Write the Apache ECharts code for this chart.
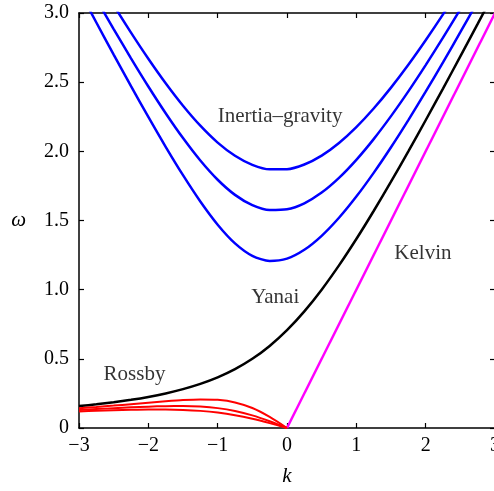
<!DOCTYPE html>
<html>
<head>
<meta charset="utf-8">
<script src="https://cdn.jsdelivr.net/npm/echarts@6/dist/echarts.min.js"></script>
<style>html,body{margin:0;padding:0;background:#fff}#c{width:494px;height:491px}</style>
</head>
<body>
<div id="c"></div>
<script>
var kIG = [-3,-2.75,-2.5,-2.25,-2,-1.75,-1.5,-1.25,-1,-0.75,-0.5,-0.25,0,0.25,0.5,0.75,1,1.25,1.5,1.75,2,2.25,2.5,2.75,3];
var ig1 = [3.1665,2.9315,2.6994,2.4712,2.2484,2.0326,1.8275,1.6373,1.4697,1.3348,1.2447,1.2079,1.2247,1.2882,1.3892,1.5196,1.6730,1.8443,2.0297,2.2261,2.4314,2.6434,2.8612,3.0836,null];
var ig2 = [3.3240,3.1014,2.8837,2.6723,2.4688,2.2755,2.0957,1.9336,1.7946,1.6852,1.6108,1.5758,1.5811,1.6246,1.7019,1.8082,1.9385,2.0884,2.2545,2.4335,2.6232,2.8216,3.0270,null,null];
var ig3 = [3.4739,3.2620,3.0564,2.8582,2.6694,2.4922,2.3298,2.1855,2.0633,1.9677,1.9022,1.8697,1.8708,1.9048,1.9690,2.0602,2.1748,2.3094,2.4607,2.6260,2.8031,2.9898,3.1848,null,null];
var yanai = [0.1583,0.1712,0.1861,0.2038,0.2247,0.2500,0.2808,0.3187,0.3660,0.4254,0.5000,0.5931,0.7071,0.8431,1.0000,1.1754,1.3660,1.5687,1.7808,2.0000,2.2247,2.4538,2.6861,2.9212,3.1583];
var kR = [-3,-2.75,-2.5,-2.25,-2,-1.75,-1.5,-1.25,-1,-0.75,-0.5,-0.25,0];
var ross1 = [0.1431,0.1521,0.1618,0.1722,0.1829,0.1933,0.2022,0.2069,0.2034,0.1848,0.1446,0.0803,0];
var ross2 = [0.1306,0.1369,0.1432,0.1492,0.1544,0.1580,0.1587,0.1547,0.1437,0.1231,0.0912,0.0488,0];
var ross3 = [0.1201,0.1245,0.1284,0.1317,0.1337,0.1337,0.1308,0.1238,0.1114,0.0925,0.0667,0.0351,0];
var kKelvin = [0,3];
var kelvin = [0,3];
var labelNames = ['Inertia\u2013gravity','Yanai','Kelvin','Rossby'];
var labelK = [-0.1,-0.17,1.96,-2.2];
var labelW = [2.255,0.94,1.26,0.39];

function pairs(xs, ys){ var o=[]; for(var i=0;i<xs.length;i++){ if(ys[i]!==null) o.push([xs[i],ys[i]]); } return o; }
var font = '"Liberation Serif","Times New Roman",serif';
var chart = echarts.init(document.getElementById('c'), null, {renderer:'canvas'});
function line(data, color, w){
  return {type:'line', data:data, showSymbol:false, symbol:'none', smooth:0.25, clip:true,
    lineStyle:{color:color, width:w}, itemStyle:{color:color}, animation:false, z:3};
}
var axisCommon = {
  axisLine:{show:true, onZero:false, lineStyle:{color:'#000', width:1.5}},
  axisTick:{show:true, inside:true, length:5, lineStyle:{color:'#000', width:1.2}},
  splitLine:{show:false}
};
var labelData = labelNames.map(function(n,i){ return {value:[labelK[i], labelW[i]], name:n}; });
chart.setOption({
  animation:false,
  grid:{left:79, top:13, width:416, height:415, containLabel:false, outerBoundsMode:'none'},
  xAxis:[
    Object.assign({type:'value', min:-3, max:3, interval:1, position:'bottom',
      name:'k', nameLocation:'middle', nameGap:38,
      nameTextStyle:{fontFamily:font, fontStyle:'italic', fontSize:21, color:'#000'},
      axisLabel:{fontFamily:font, fontSize:20, color:'#000', margin:8,
        formatter:function(v){ return String(v).replace('-', '\u2212'); }}}, axisCommon),
    Object.assign({type:'value', min:-3, max:3, interval:1, position:'top', axisLabel:{show:false}}, axisCommon)
  ],
  yAxis:[
    Object.assign({type:'value', min:0, max:3, interval:0.5, position:'left',
      name:'\u03c9', nameLocation:'middle', nameGap:53, nameRotate:0,
      nameTextStyle:{fontFamily:font, fontStyle:'italic', fontSize:21, color:'#000'},
      axisLabel:{fontFamily:font, fontSize:20, color:'#000', margin:10,
        formatter:function(v){ return v===0 ? '0' : v.toFixed(1); }}}, axisCommon),
    Object.assign({type:'value', min:0, max:3, interval:0.5, position:'right', axisLabel:{show:false}}, axisCommon)
  ],
  series:[
    line(pairs(kIG, ig1), '#0000ff', 2.5),
    line(pairs(kIG, ig2), '#0000ff', 2.5),
    line(pairs(kIG, ig3), '#0000ff', 2.5),
    line(pairs(kIG, yanai), '#000000', 2.5),
    line(pairs(kKelvin, kelvin), '#ff00ff', 2.5),
    line(pairs(kR, ross1), '#ff0000', 2),
    line(pairs(kR, ross2), '#ff0000', 2),
    line(pairs(kR, ross3), '#ff0000', 2),
    {type:'scatter', data:labelData, symbolSize:0, silent:true, z:5,
      label:{show:true, position:'inside', formatter:function(p){return p.name;},
        fontFamily:font, fontSize:21, color:'#000'}}
  ]
});
</script>
</body>
</html>
